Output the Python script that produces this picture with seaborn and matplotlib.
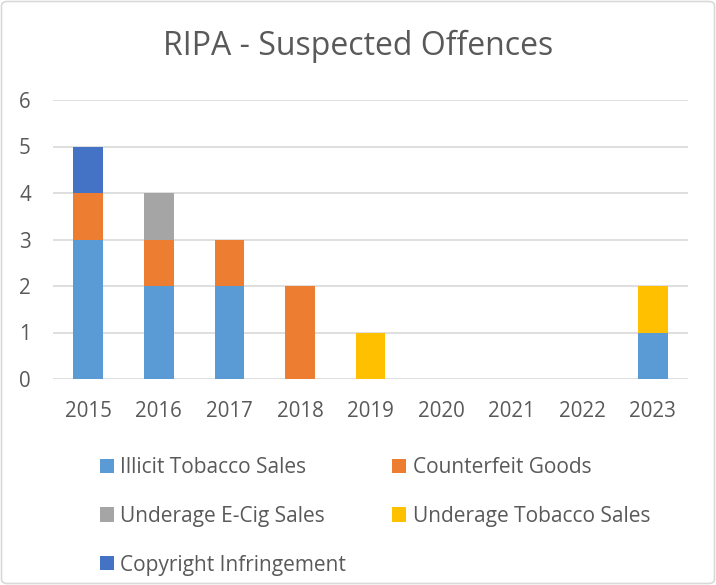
import matplotlib
matplotlib.use("Agg")
import matplotlib.pyplot as plt
import seaborn as sns
import pandas as pd
import numpy as np
from matplotlib.patches import Patch, FancyBboxPatch

years = ["2015", "2016", "2017", "2018", "2019", "2020", "2021", "2022", "2023"]
series_names = ["Illicit Tobacco Sales", "Counterfeit Goods", "Underage E-Cig Sales",
                "Underage Tobacco Sales", "Copyright Infringement"]
illicit_tobacco = [3, 2, 2, 0, 0, 0, 0, 0, 1]
counterfeit_goods = [1, 1, 1, 2, 0, 0, 0, 0, 0]
underage_ecig = [0, 1, 0, 0, 0, 0, 0, 0, 0]
underage_tobacco = [0, 0, 0, 0, 1, 0, 0, 0, 1]
copyright_infr = [1, 0, 0, 0, 0, 0, 0, 0, 0]
colors = ["#5B9BD5", "#ED7D31", "#A5A5A5", "#FFC000", "#4472C4"]

sns.set_theme(style="white")
plt.rcParams["font.family"] = ["Open Sans", "DejaVu Sans"]
txt = "#595959"

values = [illicit_tobacco, counterfeit_goods, underage_ecig, underage_tobacco, copyright_infr]
df = pd.DataFrame({"year": years})
cum = np.zeros(len(years))
for name, v in zip(series_names, values):
    cum = cum + np.array(v)
    df[name] = cum.copy()

fig = plt.figure(figsize=(7.16, 5.85), dpi=100)
ax = fig.add_axes([53/716, 1-379/585, (688-53)/716, (379-100)/585])

# draw cumulative from top series down so lower segments overlay
for name, c in reversed(list(zip(series_names, colors))):
    sns.barplot(data=df, x="year", y=name, color=c, width=0.42, order=years,
                ax=ax, saturation=1, linewidth=0, zorder=3)

ax.set_ylim(0, 6)
ax.set_xlim(-0.5, len(years) - 0.5)
ax.set_yticks(range(0, 7))
ax.yaxis.grid(True, color="#D9D9D9", linewidth=1.2, zorder=0)
ax.set_axisbelow(True)
for s in ax.spines.values():
    s.set_visible(False)
ax.set_xlabel("")
ax.set_ylabel("")
ax.tick_params(axis="both", length=0, labelsize=14.8, colors=txt)
ax.tick_params(axis="x", pad=16)
ax.tick_params(axis="y", pad=16)

fig.text(358/716, 1-46/585, "RIPA - Suspected Offences", ha="center", va="center",
         fontsize=23, color=txt)

handles = [Patch(facecolor=c, edgecolor="none") for c in colors]
order = [0, 2, 4, 1, 3]
leg = fig.legend([handles[i] for i in order], [series_names[i] for i in order],
                 ncol=2, loc="upper left", bbox_to_anchor=(85/716, 1-442.5/585),
                 frameon=False, fontsize=15, labelcolor=txt,
                 handlelength=0.67, handleheight=0.67, handletextpad=0.33,
                 columnspacing=2.2, labelspacing=1.33, borderpad=0.2)

border = FancyBboxPatch((1.5/716, 1.5/585), 1-3/716, 1-3/585, boxstyle="round,pad=0,rounding_size=0.008",
                        transform=fig.transFigure, facecolor="none", edgecolor="#D9D9D9", linewidth=1.2)
fig.patches.append(border)

fig.savefig("out.png", dpi=100)
